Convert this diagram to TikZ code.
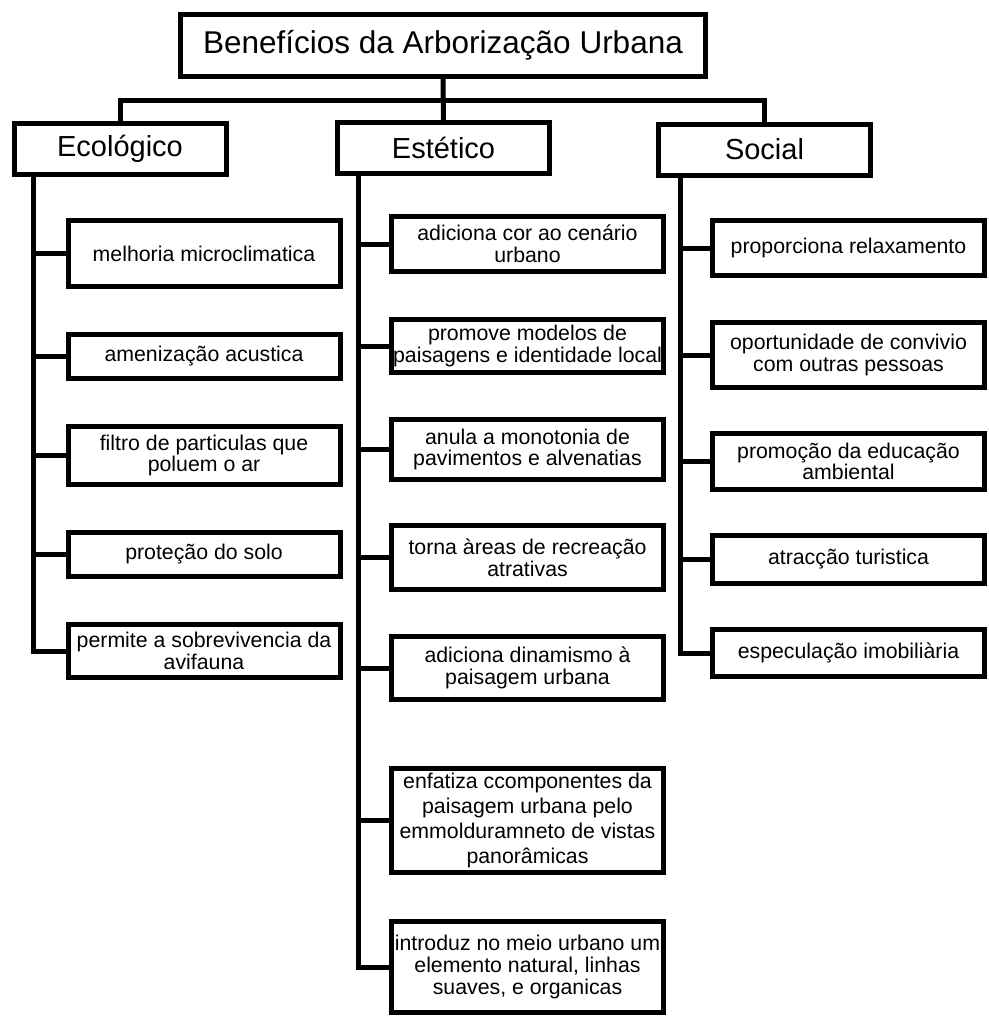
\documentclass[tikz,border=0pt]{standalone}
\usepackage{fontspec}
\setmainfont{Liberation Sans}
\begin{document}
\begin{tikzpicture}[x=1pt, y=-1pt,
  titlebox/.style={draw, line width=5pt, inner sep=0pt, minimum width=525pt, minimum height=62pt, font=\fontsize{31.5}{36}\selectfont},
  catbox/.style={draw, line width=5pt, inner sep=0pt, minimum width=212pt, minimum height=51pt, font=\fontsize{29}{33}\selectfont},
  leafbox/.style={draw, line width=5pt, inner sep=0pt, align=center, minimum width=272pt, font=\fontsize{21.3}{21.7}\selectfont},
  link/.style={line width=5pt}]

  \useasboundingbox (0,0) rectangle (988,1017);

  % -- Title --
  \node[titlebox] (title) at (443,45.5) {Benefícios da Arborização Urbana};

  % -- Categories --
  \node[catbox] (eco) at (120,149) {Ecológico};
  \node[catbox] (est) at (443.5,148) {Estético};
  \node[catbox] (soc) at (764.5,149.5) {Social};

  \coordinate (bar) at (443,100);
  \draw[link] (eco.north) |- (bar) -| (soc.north);
  \draw[link] (title.south) -- (est.north);

  % -- Ecologico items --
  \node[leafbox, minimum height=66pt] (eco1) at (204,253.5) {melhoria microclimatica};
  \node[leafbox, minimum height=44pt] (eco2) at (204,356.5) {amenização acustica};
  \node[leafbox, minimum height=58pt] (eco3) at (204,455.5) {filtro de particulas que\\poluem o ar};
  \node[leafbox, minimum height=44pt] (eco4) at (204,554.5) {proteção do solo};
  \node[leafbox, minimum height=53pt] (eco5) at (204,651) {permite a sobrevivencia da\\avifauna};

  % -- Estetico items --
  \node[leafbox, minimum height=55pt] (est1) at (527.5,244) {adiciona cor ao cenário\\urbano};
  \node[leafbox, minimum height=53pt] (est2) at (527.5,346) {promove modelos de\\paisagens e identidade local};
  \node[leafbox, minimum height=60pt] (est3) at (527.5,449.5) {anula a monotonia de\\pavimentos e alvenatias};
  \node[leafbox, minimum height=64pt] (est4) at (527.5,557.5) {torna àreas de recreação\\atrativas};
  \node[leafbox, minimum height=63pt] (est5) at (527.5,668) {adiciona dinamismo à\\paisagem urbana};
  \node[leafbox, minimum height=104pt, font=\fontsize{21.3}{24.7}\selectfont] (est6) at (527.5,820.5) {enfatiza ccomponentes da\\paisagem urbana pelo\\emmolduramneto de vistas\\panorâmicas};
  \node[leafbox, minimum height=91pt] (est7) at (527.5,967) {introduz no meio urbano um\\elemento natural, linhas\\suaves, e organicas};

  % -- Social items --
  \node[leafbox, minimum height=55pt] (soc1) at (848.5,248) {proporciona relaxamento};
  \node[leafbox, minimum height=65pt] (soc2) at (848.5,355) {oportunidade de convivio\\com outras pessoas};
  \node[leafbox, minimum height=56pt] (soc3) at (848.5,461.5) {promoção da educação\\ambiental};
  \node[leafbox, minimum height=48pt] (soc4) at (848.5,559.5) {atracção turistica};
  \node[leafbox, minimum height=47pt] (soc5) at (848.5,653) {especulação imobiliària};

  % -- Spines --
  \coordinate (ecoSpine) at (33,0);
  \coordinate (estSpine) at (358,0);
  \coordinate (socSpine) at (680,0);

  \draw[link] (ecoSpine |- eco.south) |- (eco5.west);
  \foreach \i in {1,...,4} \draw[link] (ecoSpine |- eco\i.west) -- (eco\i.west);

  \draw[link] (estSpine |- est.south) |- (est7.west);
  \foreach \i in {1,...,6} \draw[link] (estSpine |- est\i.west) -- (est\i.west);

  \draw[link] (socSpine |- soc.south) |- (soc5.west);
  \foreach \i in {1,...,4} \draw[link] (socSpine |- soc\i.west) -- (soc\i.west);

\end{tikzpicture}
\end{document}
